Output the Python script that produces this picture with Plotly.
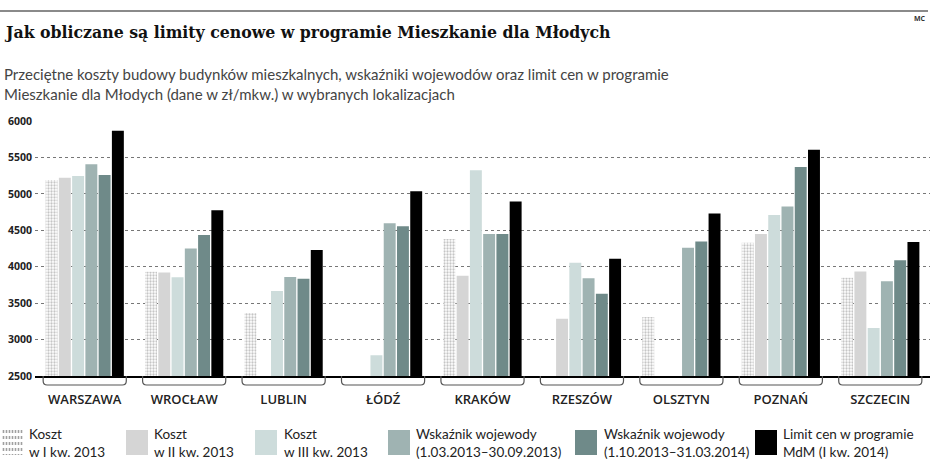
import plotly.graph_objects as go

# ---------------- data ----------------
cities = ["WARSZAWA", "WROCŁAW", "LUBLIN", "ŁÓDŹ", "KRAKÓW", "RZESZÓW", "OLSZTYN", "POZNAŃ", "SZCZECIN"]
koszt_1 = [5190, 3930, 3365, None, 4380, None, 3310, 4330, 3850]
koszt_2 = [5220, 3920, None, None, 3875, 3285, None, 4450, 3935]
koszt_3 = [5245, 3855, 3665, 2785, 5325, 4055, None, 4710, 3160]
wsk_1 = [5405, 4250, 3860, 4595, 4450, 3840, 4260, 4825, 3800]
wsk_2 = [5260, 4435, 3835, 4555, 4450, 3630, 4345, 5370, 4090]
limit = [5865, 4775, 4230, 5035, 4895, 4110, 4730, 5605, 4340]

series_names = [
    "Koszt<br>w I kw. 2013",
    "Koszt<br>w II kw. 2013",
    "Koszt<br>w III kw. 2013",
    "Wskaźnik wojewody<br>(1.03.2013–30.09.2013)",
    "Wskaźnik wojewody<br>(1.10.2013–31.03.2014)",
    "Limit cen w programie<br>MdM (I kw. 2014)",
]
y_ticks = [2500, 3000, 3500, 4000, 4500, 5000, 5500, 6000]

title = "Jak obliczane są limity cenowe w programie Mieszkanie dla Młodych"
subtitle = ("Przeciętne koszty budowy budynków mieszkalnych, wskaźniki wojewodów oraz limit cen w programie<br>"
            "Mieszkanie dla Młodych (dane w zł/mkw.) w wybranych lokalizacjach")

# ---------------- styling ----------------
W, H = 936, 474
ML, MR, MT, MB = 35, 6, 121, 98
PW, PH = W - ML - MR, H - MT - MB
colors = ["#ffffff", "#d5d5d5", "#cddcdb", "#9fb3b2", "#6f8a89", "#000000"]
SANS = "Open Sans, Noto Sans, DejaVu Sans, sans-serif"


def px(x):
    return (x - ML) / PW


def py(y):
    return (H - MB - y) / PH


fig = go.Figure()
all_series = [koszt_1, koszt_2, koszt_3, wsk_1, wsk_2, limit]
for i, (vals, name) in enumerate(zip(all_series, series_names)):
    marker = dict(color=colors[i], line=dict(width=0))
    if i == 0:
        marker["pattern"] = dict(shape=".", fgcolor="#8c8c8c", bgcolor="#ffffff",
                                 size=3, solidity=0.45)
    fig.add_trace(go.Bar(x=cities, y=vals, name=name, marker=marker, showlegend=False))

shapes = []
# top rule
shapes.append(dict(type="line", xref="paper", yref="paper", x0=px(0), x1=px(928),
                   y0=py(11), y1=py(11), line=dict(color="#8a8a8a", width=2)))
# braces under each category
hw, r = 0.418, 0.04
yb = py(385)
yc = py(381)
for i in range(len(cities)):
    x0, x1 = i - hw, i + hw
    path = (f"M {x0},{py(376)} L {x0},{yc} Q {x0},{yb} {x0 + r},{yb} "
            f"L {x1 - r},{yb} Q {x1},{yb} {x1},{yc} L {x1},{py(376)}")
    shapes.append(dict(type="path", xref="x", yref="paper", path=path,
                       line=dict(color="#555555", width=1.2)))

# legend (custom)
leg_x = [2, 126, 255, 388, 575, 755]
leg_tx = [27, 152, 282, 414, 602, 781]
annotations = []
for i in range(6):
    x0 = leg_x[i]
    if i == 0:
        for k in range(7):
            xx = x0 + 1.5 + k * 3
            shapes.append(dict(type="line", xref="paper", yref="paper",
                               x0=px(xx), x1=px(xx), y0=py(430), y1=py(455),
                               line=dict(color="#a0a0a0", width=1.6, dash="dot")))
    else:
        shapes.append(dict(type="rect", xref="paper", yref="paper",
                           x0=px(x0), x1=px(x0 + 22), y0=py(455), y1=py(430),
                           fillcolor=colors[i], line=dict(width=0)))
    annotations.append(dict(xref="paper", yref="paper", x=px(leg_tx[i]), y=py(443),
                            xanchor="left", yanchor="middle", align="left",
                            text=series_names[i], showarrow=False,
                            font=dict(family="Lato, Roboto, sans-serif", size=13.5,
                                      color="#222222")))

# title, subtitle, credit
annotations.append(dict(xref="paper", yref="paper", x=px(2), y=py(32), xanchor="left",
                        yanchor="middle", text=title, showarrow=False,
                        font=dict(family="DejaVu Serif Condensed, DejaVu Serif, serif",
                                  size=17.5, color="#111111", weight=700)))
annotations.append(dict(xref="paper", yref="paper", x=px(2), y=py(84), xanchor="left",
                        yanchor="middle", align="left", text=subtitle, showarrow=False,
                        font=dict(family="Lato, Roboto, sans-serif", size=15, color="#444444")))
annotations.append(dict(xref="paper", yref="paper", x=px(928), y=py(18), xanchor="right",
                        yanchor="middle", text="MC", showarrow=False,
                        font=dict(family=SANS, size=7, color="#333333", weight=700)))

fig.update_layout(
    width=W, height=H,
    margin=dict(l=ML, r=MR, t=MT, b=MB, pad=0),
    paper_bgcolor="white", plot_bgcolor="white",
    barmode="group", bargap=0.2, bargroupgap=0.1,
    shapes=shapes, annotations=annotations,
    showlegend=False,
)
fig.update_xaxes(
    type="category", range=[-0.5, len(cities) - 0.5],
    showline=True, linecolor="#000000", linewidth=2,
    showgrid=False, ticks="outside", ticklen=10, tickcolor="rgba(0,0,0,0)",
    tickfont=dict(family=SANS, size=13, color="#222222", weight=600),
)
fig.update_yaxes(
    range=[2500, 6000], tickvals=y_ticks, ticktext=[str(v) for v in y_ticks],
    showgrid=True, gridcolor="#777777", griddash="dot", gridwidth=1,
    zeroline=False, showline=False, ticks="", ticklabelstandoff=2,
    tickfont=dict(family=SANS, size=10.5, color="#222222", weight=700),
)

fig.write_html("out.html")
